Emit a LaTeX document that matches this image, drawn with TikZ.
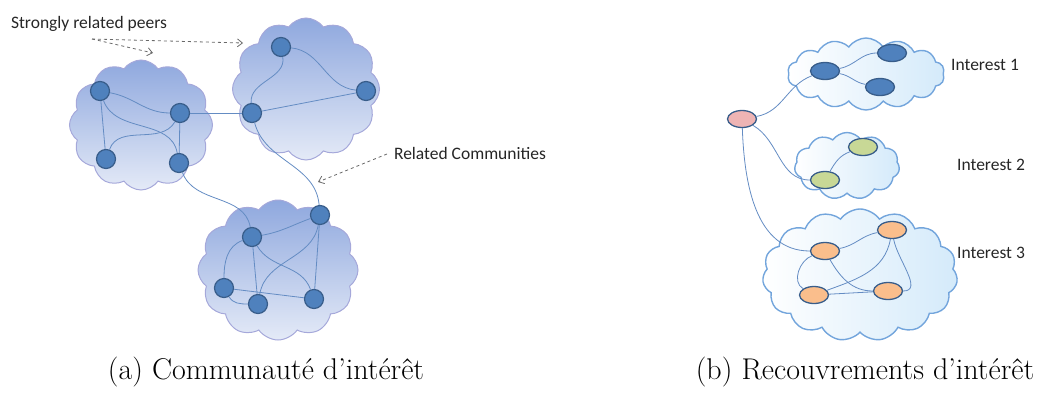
\documentclass[tikz,border=0pt]{standalone}
\usepackage{fontspec}
\newfontfamily\lblfont{Carlito}
\usetikzlibrary{shapes.symbols,shapes.geometric,arrows.meta}
\definecolor{nodeblue}{RGB}{79,129,189}
\definecolor{nodeedge}{RGB}{56,93,138}
\definecolor{linkblue}{RGB}{100,140,195}
\definecolor{cloudtop}{RGB}{143,168,222}
\definecolor{cloudbot}{RGB}{228,234,247}
\definecolor{cloudline}{RGB}{165,168,218}
\definecolor{rcloudline}{RGB}{115,165,220}
\definecolor{rcloudfill}{RGB}{212,234,250}
\definecolor{pinkfill}{RGB}{238,180,180}
\definecolor{greenfill}{RGB}{200,216,150}
\definecolor{orangefill}{RGB}{250,190,140}
\definecolor{arrowgray}{RGB}{105,105,105}
\tikzset{
  lcloud/.style={cloud, cloud puffs=12, cloud puff arc=110, aspect=1, draw=cloudline, line width=1pt, top color=cloudtop, bottom color=cloudbot},
  rcloud/.style={cloud, cloud puffs=14, cloud puff arc=110, draw=rcloudline, line width=1.4pt, left color=white, right color=rcloudfill},
  peer/.style={circle, fill=nodeblue, draw=nodeedge, line width=1.2pt, minimum size=19pt, inner sep=0pt},
  epeer/.style={ellipse, draw=nodeedge, line width=1.3pt, minimum width=29pt, minimum height=17pt, inner sep=0pt},
  link/.style={draw=linkblue, line width=0.8pt},
  dasharrow/.style={draw=arrowgray, dashed, line width=0.8pt, -{Straight Barb[length=5pt,width=8pt]}},
  lbl/.style={font=\lblfont\fontsize{17.5}{20}\selectfont, text=black!85, inner sep=0pt},
  captext/.style={font=\fontsize{30}{34}\selectfont, inner sep=0pt}
}
\begin{document}
\begin{tikzpicture}[x=1pt,y=-1pt]
\useasboundingbox (0,0) rectangle (1056,394);
% ---------- left panel clouds
\node[lcloud, minimum width=143pt, minimum height=130pt] (cl1) at (141,125) {};
\node[lcloud, minimum width=147pt, minimum height=142pt] (cl2) at (306,89) {};
\node[lcloud, minimum width=160pt, minimum height=140pt] (cl3) at (278,270) {};
% peers
\node[peer] (A1) at (100,91) {};
\node[peer] (A2) at (180,113) {};
\node[peer] (A3) at (106,159) {};
\node[peer] (A4) at (179,163) {};
\node[peer] (B1) at (281,47) {};
\node[peer] (B2) at (366,91) {};
\node[peer] (B3) at (252,113) {};
\node[peer] (C1) at (320,215) {};
\node[peer] (C2) at (252,237) {};
\node[peer] (C3) at (224,288) {};
\node[peer] (C4) at (258,304) {};
\node[peer] (C5) at (314,299) {};
% links
\path[link] (A1) to[out=-10,in=180] (A2);
\path[link] (A1) -- (A3);
\path[link] (A1) to[out=-70,in=100] (A4);
\path[link] (A3) to[out=70,in=-120] (A2);
\path[link] (A2) -- (A4);
\path[link] (A2) -- (B3);
\path[link] (B3) to[out=95,in=-80] (B1);
\path[link] (B1) to[out=-5,in=175] (B2);
\path[link] (B3) -- (B2);
\path[link] (A4) to[out=-70,in=100] (C2);
\path[link] (B3) to[out=-75,in=95] (C1);
\path[link] (C2) to[out=10,in=200] (C1);
\path[link] (C2) to[out=200,in=90] (C3);
\path[link] (C2) -- (C4);
\path[link] (C2) to[out=-60,in=110] (C5);
\path[link] (C1) to[out=-100,in=80] (C4);
\path[link] (C1) -- (C5);
\path[link] (C3) -- (C5);
\path[link] (C3) to[out=-60,in=180] (C4);
% labels + dashed arrows
\node[lbl] (sp) at (89,24) {Strongly related peers};
\node[lbl] (rc) at (470,153) {Related Communities};
\coordinate (spS) at (92,39);
\coordinate (spT1) at (153,53);
\coordinate (spT2) at (243,43);
\coordinate (rcS) at (387,154);
\coordinate (rcT) at (318,182);
\draw[dasharrow] (spS) -- (spT1);
\draw[dasharrow] (spS) -- (spT2);
\draw[dasharrow] (rcS) -- (rcT);
% ---------- right panel clouds
\node[rcloud, minimum width=157pt, minimum height=72pt, aspect=2.2] (ic1) at (866,74) {};
\node[rcloud, cloud puffs=11, minimum width=105pt, minimum height=67pt, aspect=1.6] (ic2) at (847,166) {};
\node[rcloud, cloud puffs=15, minimum width=195pt, minimum height=132pt, aspect=1.5] (ic3) at (860,275) {};
\node[epeer, fill=pinkfill] (P) at (742,119) {};
\node[epeer, fill=nodeblue] (N1) at (825,71) {};
\node[epeer, fill=nodeblue] (N2) at (892,53) {};
\node[epeer, fill=nodeblue] (N3) at (880,87) {};
\node[epeer, fill=greenfill] (G1) at (863,147) {};
\node[epeer, fill=greenfill] (G2) at (825,180) {};
\node[epeer, fill=orangefill] (O1) at (892,230) {};
\node[epeer, fill=orangefill] (O2) at (825,251) {};
\node[epeer, fill=orangefill] (O3) at (814,295) {};
\node[epeer, fill=orangefill] (O4) at (888,291) {};
\path[link] (P) to[out=10,in=200] (N1);
\path[link] (P) to[out=-30,in=180] (G2);
\path[link] (P) to[out=-88,in=180] (O2);
\path[link] (N1) to[out=10,in=180] (N2);
\path[link] (N1) to[out=-10,in=170] (N3);
\path[link] (G2) to[out=60,in=200] (G1);
\path[link] (O2) to[out=10,in=190] (O1);
\path[link] (O1) to[out=-100,in=20] (O3);
\path[link] (O1) to[out=-80,in=0] (O4);
\path[link] (O2) to[out=-60,in=180] (O4);
\path[link] (O2) to[out=200,in=150] (O3);
\path[link] (O3) -- (O4);
\node[lbl] (i1) at (985,65) {Interest 1};
\node[lbl] (i2) at (991,165) {Interest 2};
\node[lbl] (i3) at (991,253) {Interest 3};
% captions
\node[captext] (ca) at (266,372) {(a) Communauté d’intérêt};
\node[captext] (cb) at (865,372) {(b) Recouvrements d’intérêt};
\end{tikzpicture}
\end{document}
